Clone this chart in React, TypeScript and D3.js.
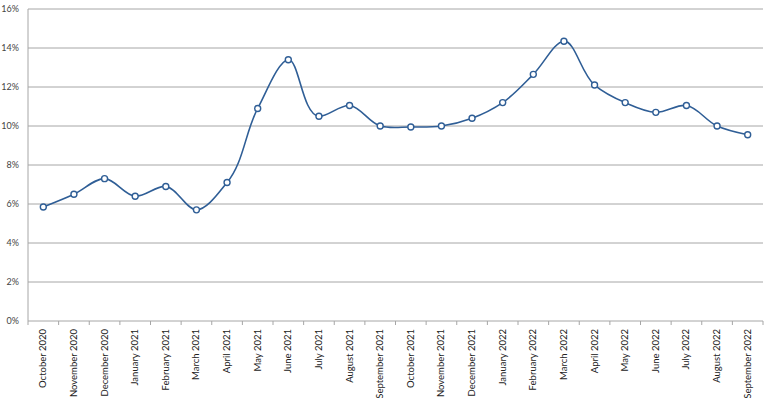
import React from 'react';
import * as d3 from 'd3';

const months = [
  'October 2020', 'November 2020', 'December 2020', 'January 2021', 'February 2021', 'March 2021',
  'April 2021', 'May 2021', 'June 2021', 'July 2021', 'August 2021', 'September 2021',
  'October 2021', 'November 2021', 'December 2021', 'January 2022', 'February 2022', 'March 2022',
  'April 2022', 'May 2022', 'June 2022', 'July 2022', 'August 2022', 'September 2022',
];
const rates = [
  5.85, 6.5, 7.3, 6.4, 6.9, 5.7,
  7.1, 10.9, 13.4, 10.5, 11.05, 10.0,
  9.95, 10.0, 10.4, 11.2, 12.65, 14.35,
  12.1, 11.2, 10.7, 11.05, 10.0, 9.55,
];
const yTicks = [0, 2, 4, 6, 8, 10, 12, 14, 16];

const W = 768, H = 398;
const left = 28, right = 763, top = 9, bottom = 321;
const blue = '#2f5e96';

export default function App() {
  const x = d3.scaleBand().domain(months).range([left, right]);
  const y = d3.scaleLinear().domain([0, 16]).range([bottom, top]);
  const cx = (i: number) => (x(months[i]) as number) + x.bandwidth() / 2;

  // chordal catmull-rom: round on steep peaks, tight where segments are short
  const line = d3.line<number>()
    .x((_, i) => cx(i))
    .y(d => y(d))
    .curve(d3.curveCatmullRom.alpha(1));

  const edges = months.map(m => x(m) as number).concat([right]);

  return (
    <svg width={W} height={H} style={{ position: 'absolute', left: 0, top: 0 }}
      fontFamily="Lato, 'Open Sans', sans-serif">
      {yTicks.map(t => (
        <g key={t}>
          {t > 0 && <line x1={left} x2={right} y1={y(t)} y2={y(t)} stroke="#a6a6a6" strokeWidth={1} />}
          <text x={19} y={y(t)} dy="0.35em" textAnchor="end" fontSize={9} fill="#444">{t}%</text>
        </g>
      ))}
      <line x1={left} x2={left} y1={top} y2={bottom} stroke="#a6a6a6" strokeWidth={1} />
      <line x1={left} x2={right} y1={bottom} y2={bottom} stroke="#a6a6a6" strokeWidth={1} />
      {edges.map((e, i) => (
        <line key={i} x1={e} x2={e} y1={bottom} y2={bottom + 4} stroke="#a6a6a6" strokeWidth={1} />
      ))}
      {months.map((m, i) => (
        <text key={m} transform={`translate(${cx(i) + 3},${bottom + 8}) rotate(-90)`}
          textAnchor="end" fontSize={9.5} fill="#222">{m}</text>
      ))}
      <path d={line(rates) || ''} fill="none" stroke={blue} strokeWidth={1.6} />
      {rates.map((v, i) => (
        <circle key={i} cx={cx(i)} cy={y(v)} r={3} fill="#fff" stroke={blue} strokeWidth={1.4} />
      ))}
    </svg>
  );
}
